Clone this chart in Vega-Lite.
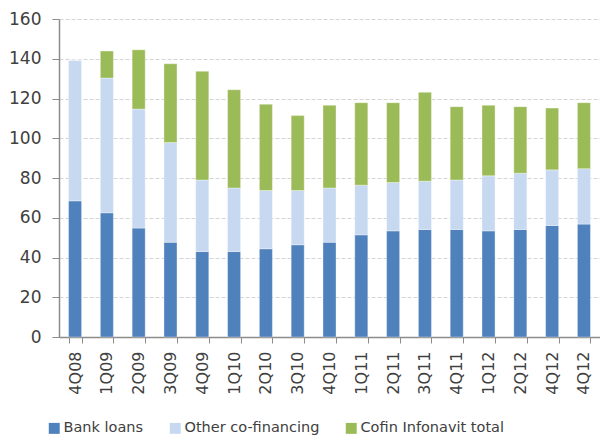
{
  "$schema": "https://vega.github.io/schema/vega-lite/v6.json",
  "width": 541,
  "height": 318,
  "autosize": {"type": "none"},
  "padding": {"left": 59, "top": 19, "right": 0, "bottom": 106},
  "background": "white",
  "config": {
    "view": {"stroke": null},
    "font": "DejaVu Sans",
    "axis": {"labelColor": "#404040", "domainColor": "#8c8c8c", "tickColor": "#8c8c8c"}
  },
  "data": {"values": [
    {"q": "4Q08", "s": "Bank loans", "k": 1, "v": 68.5},
    {"q": "4Q08", "s": "Other co-financing", "k": 2, "v": 70.8},
    {"q": "4Q08", "s": "Cofin Infonavit total", "k": 3, "v": 0},
    {"q": "1Q09", "s": "Bank loans", "k": 1, "v": 62.5},
    {"q": "1Q09", "s": "Other co-financing", "k": 2, "v": 67.8},
    {"q": "1Q09", "s": "Cofin Infonavit total", "k": 3, "v": 13.6},
    {"q": "2Q09", "s": "Bank loans", "k": 1, "v": 54.8},
    {"q": "2Q09", "s": "Other co-financing", "k": 2, "v": 59.9},
    {"q": "2Q09", "s": "Cofin Infonavit total", "k": 3, "v": 29.8},
    {"q": "3Q09", "s": "Bank loans", "k": 1, "v": 47.7},
    {"q": "3Q09", "s": "Other co-financing", "k": 2, "v": 50.1},
    {"q": "3Q09", "s": "Cofin Infonavit total", "k": 3, "v": 39.7},
    {"q": "4Q09", "s": "Bank loans", "k": 1, "v": 43.0},
    {"q": "4Q09", "s": "Other co-financing", "k": 2, "v": 36.0},
    {"q": "4Q09", "s": "Cofin Infonavit total", "k": 3, "v": 54.7},
    {"q": "1Q10", "s": "Bank loans", "k": 1, "v": 43.0},
    {"q": "1Q10", "s": "Other co-financing", "k": 2, "v": 32.0},
    {"q": "1Q10", "s": "Cofin Infonavit total", "k": 3, "v": 49.4},
    {"q": "2Q10", "s": "Bank loans", "k": 1, "v": 44.4},
    {"q": "2Q10", "s": "Other co-financing", "k": 2, "v": 29.3},
    {"q": "2Q10", "s": "Cofin Infonavit total", "k": 3, "v": 43.4},
    {"q": "3Q10", "s": "Bank loans", "k": 1, "v": 46.4},
    {"q": "3Q10", "s": "Other co-financing", "k": 2, "v": 27.3},
    {"q": "3Q10", "s": "Cofin Infonavit total", "k": 3, "v": 37.7},
    {"q": "4Q10", "s": "Bank loans", "k": 1, "v": 47.7},
    {"q": "4Q10", "s": "Other co-financing", "k": 2, "v": 27.3},
    {"q": "4Q10", "s": "Cofin Infonavit total", "k": 3, "v": 41.6},
    {"q": "1Q11", "s": "Bank loans", "k": 1, "v": 51.4},
    {"q": "1Q11", "s": "Other co-financing", "k": 2, "v": 25.0},
    {"q": "1Q11", "s": "Cofin Infonavit total", "k": 3, "v": 41.5},
    {"q": "2Q11", "s": "Bank loans", "k": 1, "v": 53.4},
    {"q": "2Q11", "s": "Other co-financing", "k": 2, "v": 24.3},
    {"q": "2Q11", "s": "Cofin Infonavit total", "k": 3, "v": 40.2},
    {"q": "3Q11", "s": "Bank loans", "k": 1, "v": 54.1},
    {"q": "3Q11", "s": "Other co-financing", "k": 2, "v": 24.3},
    {"q": "3Q11", "s": "Cofin Infonavit total", "k": 3, "v": 44.7},
    {"q": "4Q11", "s": "Bank loans", "k": 1, "v": 54.1},
    {"q": "4Q11", "s": "Other co-financing", "k": 2, "v": 24.9},
    {"q": "4Q11", "s": "Cofin Infonavit total", "k": 3, "v": 36.9},
    {"q": "1Q12", "s": "Bank loans", "k": 1, "v": 53.4},
    {"q": "1Q12", "s": "Other co-financing", "k": 2, "v": 27.7},
    {"q": "1Q12", "s": "Cofin Infonavit total", "k": 3, "v": 35.5},
    {"q": "2Q12", "s": "Bank loans", "k": 1, "v": 54.1},
    {"q": "2Q12", "s": "Other co-financing", "k": 2, "v": 28.3},
    {"q": "2Q12", "s": "Cofin Infonavit total", "k": 3, "v": 33.5},
    {"q": "4Q12", "s": "Bank loans", "k": 1, "v": 56.1},
    {"q": "4Q12", "s": "Other co-financing", "k": 2, "v": 28.0},
    {"q": "4Q12", "s": "Cofin Infonavit total", "k": 3, "v": 31.1},
    {"q": "4Q12 ", "s": "Bank loans", "k": 1, "v": 56.8},
    {"q": "4Q12 ", "s": "Other co-financing", "k": 2, "v": 27.9},
    {"q": "4Q12 ", "s": "Cofin Infonavit total", "k": 3, "v": 33.2}
  ]},
  "mark": {"type": "bar", "stroke": "white", "strokeOpacity": 0.5, "strokeWidth": 0.7},
  "encoding": {
    "x": {
      "field": "q", "type": "nominal", "sort": null, "title": null,
      "scale": {"paddingInner": 0.59, "paddingOuter": 0.3},
      "axis": {"labelAngle": -90, "labelFontSize": 16, "labelPadding": 8, "tickBand": "extent", "tickSize": 6, "domainWidth": 1.5, "labelBaseline": "middle", "labelAlign": "right"}
    },
    "y": {
      "field": "v", "type": "quantitative", "stack": "zero", "title": null,
      "scale": {"domain": [0, 160], "nice": false},
      "axis": {"values": [0, 20, 40, 60, 80, 100, 120, 140, 160], "labelFontSize": 17, "labelPadding": 11, "tickSize": 7, "domainWidth": 1.5, "grid": true, "gridDash": [4, 2], "gridColor": "#d4d4d4", "gridWidth": 1}
    },
    "color": {
      "field": "s", "type": "nominal", "title": null,
      "scale": {"domain": ["Bank loans", "Other co-financing", "Cofin Infonavit total"], "range": ["#4f81bd", "#c6d9f1", "#9bbb59"]},
      "legend": {"orient": "none", "legendX": -12, "legendY": 402, "direction": "horizontal", "symbolType": "square", "symbolSize": 120, "symbolStrokeWidth": 0, "labelFontSize": 14.5, "labelColor": "#404040", "columnPadding": 24, "labelOffset": 2}
    },
    "order": {"field": "k", "type": "quantitative"}
  }
}
